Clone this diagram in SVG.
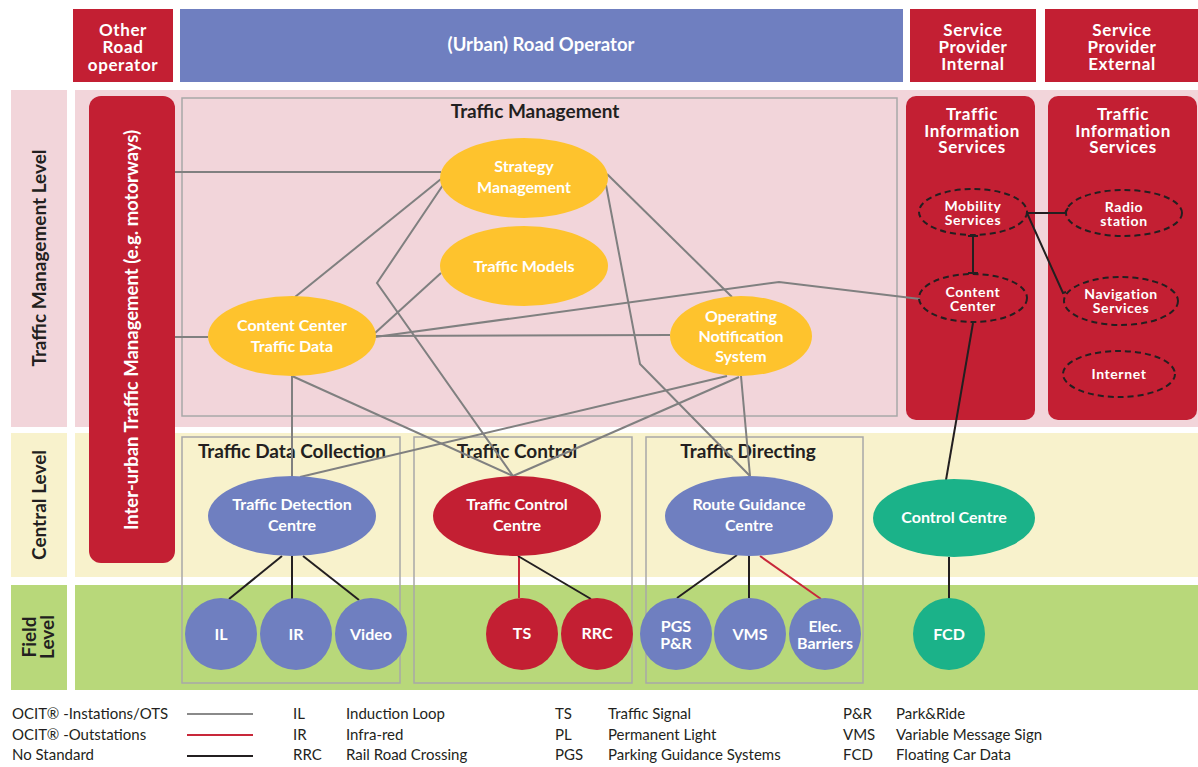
<svg xmlns="http://www.w3.org/2000/svg" width="1198" height="767" viewBox="0 0 1198 767">
<style>
text{font-family:Lato,"Open Sans","Liberation Sans",sans-serif}
.hdr{fill:#fff;font-size:17px;font-weight:bold;text-anchor:middle;letter-spacing:0.6px}
.big{fill:#fff;font-size:18.5px;font-weight:bold;text-anchor:middle}
.lvl{fill:#231f20;font-size:19px;font-weight:bold;text-anchor:middle}
.ttl{fill:#231f20;font-size:19px;font-weight:bold;text-anchor:middle}
.nt{fill:#fff;font-size:16px;font-weight:bold;text-anchor:middle}
.st{fill:#fff;font-size:14px;font-weight:bold;text-anchor:middle;letter-spacing:0.6px}
.lg{fill:#231f20;font-size:15px}
.red{fill:#c31f33}
.blue{fill:#6f7fc0}
.yel{fill:#fec32d}
.grn{fill:#1bb289}
.grp{fill:none;stroke:#a8a8a8;stroke-width:1.5}
.dash{fill:none;stroke:#231f20;stroke-width:2;stroke-dasharray:6 4}
.cg{fill:none;stroke:#808080;stroke-width:2}
.cr{fill:none;stroke:#c8283a;stroke-width:2}
.cb{fill:none;stroke:#231f20;stroke-width:2}
</style>

<!-- bands -->
<g id="bands">
  <rect x="11" y="90" width="56" height="337" fill="#f2d5da"/>
  <rect x="75" y="90" width="1123" height="337" fill="#f2d5da"/>
  <rect x="11" y="433" width="56" height="144" fill="#f8f2cc"/>
  <rect x="75" y="433" width="1123" height="144" fill="#f8f2cc"/>
  <rect x="11" y="585" width="56" height="105" fill="#b8d87a"/>
  <rect x="75" y="585" width="1123" height="105" fill="#b8d87a"/>
  <text class="lvl" transform="translate(46,258) rotate(-90)">Traffic Management Level</text>
  <text class="lvl" transform="translate(46,505) rotate(-90)">Central Level</text>
  <text class="lvl" transform="translate(36,637) rotate(-90)">Field</text>
  <text class="lvl" transform="translate(54,637) rotate(-90)">Level</text>
</g>

<!-- headers -->
<g id="hdr-other">
  <rect class="red" x="73" y="9" width="100" height="73"/>
  <text class="hdr" x="123" y="36">Other</text>
  <text class="hdr" x="123" y="53">Road</text>
  <text class="hdr" x="123" y="71">operator</text>
</g>
<g id="hdr-urban">
  <rect class="blue" x="180" y="9" width="723" height="73"/>
  <text class="big" x="541" y="51">(Urban) Road Operator</text>
</g>
<g id="hdr-spi">
  <rect class="red" x="910" y="9" width="126" height="73"/>
  <text class="hdr" x="973" y="36">Service</text>
  <text class="hdr" x="973" y="53">Provider</text>
  <text class="hdr" x="973" y="70">Internal</text>
</g>
<g id="hdr-spe">
  <rect class="red" x="1045" y="9" width="153" height="73"/>
  <text class="hdr" x="1122" y="36">Service</text>
  <text class="hdr" x="1122" y="53">Provider</text>
  <text class="hdr" x="1122" y="70">External</text>
</g>

<!-- group boxes -->
<g id="box-tm">
  <rect class="grp" x="182" y="98" width="715" height="318"/>
  <text class="ttl" x="535" y="118">Traffic Management</text>
</g>
<g id="box-tdc">
  <rect class="grp" x="182" y="437" width="218" height="246"/>
  <text class="ttl" x="292" y="458">Traffic Data Collection</text>
</g>
<g id="box-tc">
  <rect class="grp" x="414" y="437" width="218" height="246"/>
  <text class="ttl" x="517" y="458">Traffic Control</text>
</g>
<g id="box-td">
  <rect class="grp" x="646" y="437" width="217" height="246"/>
  <text class="ttl" x="748" y="458">Traffic Directing</text>
</g>

<g id="inter-urban">
  <rect class="red" x="89" y="96" width="86" height="467" rx="12"/>
  <text class="big" transform="translate(138,330) rotate(-90)">Inter-urban Traffic Management (e.g. motorways)</text>
</g>

<g id="tis-internal">
  <rect class="red" x="906" y="96" width="129" height="324" rx="10"/>
  <text class="hdr" x="972" y="120">Traffic</text>
  <text class="hdr" x="972" y="137">Information</text>
  <text class="hdr" x="972" y="153">Services</text>
</g>
<g id="tis-external">
  <rect class="red" x="1048" y="96" width="149" height="324" rx="10"/>
  <text class="hdr" x="1123" y="120">Traffic</text>
  <text class="hdr" x="1123" y="137">Information</text>
  <text class="hdr" x="1123" y="153">Services</text>
</g>

<!-- connectors -->
<g id="connectors">
  <path class="cg" d="M175,172 H441"/>
  <path class="cg" d="M175,337 H208"/>
  <path class="cg" d="M441,179 L295,297"/>
  <path class="cg" d="M443,185 L377,283 L513,476"/>
  <path class="cg" d="M441,273 L375,333"/>
  <path class="cg" d="M375,336 L670,335"/>
  <path class="cg" d="M375,337 L779,282 L920,299"/>
  <path class="cg" d="M607,174 L732,297"/>
  <path class="cg" d="M606,185 L640,364 L750,476"/>
  <path class="cg" d="M741,376 L750,476"/>
  <path class="cg" d="M727,376 L300,477"/>
  <path class="cg" d="M739,377 L513,476"/>
  <path class="cg" d="M292,376 V476"/>
  <path class="cg" d="M292,376 L513,476"/>
  <path class="cb" d="M968,236 H978 M973,236 V273 M968,273 H978"/>
  <path class="cb" d="M1027,213 H1065 L1068,208"/>
  <path class="cb" d="M1027,213 L1063,293 L1066,292"/>
  <path class="cb" d="M973,323 L946,480"/>
  <path class="cb" d="M949,557 V599"/>
  <path class="cb" d="M282,556 L229,599"/>
  <path class="cb" d="M292,556 V599"/>
  <path class="cb" d="M303,556 L359,600"/>
  <path class="cr" d="M519,556 V598"/>
  <path class="cb" d="M518,556 L591,599"/>
  <path class="cb" d="M737,555 L677,598"/>
  <path class="cb" d="M749,556 V598"/>
  <path class="cr" d="M760,556 L821,599"/>
</g>

<!-- traffic management nodes -->
<g id="strategy">
  <ellipse class="yel" cx="524" cy="178" rx="84" ry="40"/>
  <text class="nt" x="524" y="172">Strategy</text>
  <text class="nt" x="524" y="193">Management</text>
</g>
<g id="models">
  <ellipse class="yel" cx="524" cy="266" rx="84" ry="40"/>
  <text class="nt" x="524" y="272">Traffic Models</text>
</g>
<g id="content-data">
  <ellipse class="yel" cx="292" cy="336" rx="84" ry="40"/>
  <text class="nt" x="292" y="331">Content Center</text>
  <text class="nt" x="292" y="352">Traffic Data</text>
</g>
<g id="ons">
  <ellipse class="yel" cx="741" cy="336" rx="71" ry="40"/>
  <text class="nt" x="741" y="322">Operating</text>
  <text class="nt" x="741" y="342">Notification</text>
  <text class="nt" x="741" y="362">System</text>
</g>

<!-- service nodes -->
<g id="mobility">
  <ellipse class="dash" cx="973" cy="212" rx="54" ry="23"/>
  <text class="st" x="973" y="211">Mobility</text>
  <text class="st" x="973" y="225">Services</text>
</g>
<g id="content-center">
  <ellipse class="dash" cx="973" cy="298" rx="54" ry="24"/>
  <text class="st" x="973" y="297">Content</text>
  <text class="st" x="973" y="311">Center</text>
</g>
<g id="radio">
  <ellipse class="dash" cx="1124" cy="213" rx="58" ry="23"/>
  <text class="st" x="1124" y="212">Radio</text>
  <text class="st" x="1124" y="226">station</text>
</g>
<g id="navigation">
  <ellipse class="dash" cx="1121" cy="301" rx="57" ry="24"/>
  <text class="st" x="1121" y="299">Navigation</text>
  <text class="st" x="1121" y="313">Services</text>
</g>
<g id="internet">
  <ellipse class="dash" cx="1119" cy="374" rx="56" ry="23"/>
  <text class="st" x="1119" y="379">Internet</text>
</g>

<!-- central nodes -->
<g id="tdc">
  <ellipse class="blue" cx="292" cy="516" rx="84" ry="40"/>
  <text class="nt" x="292" y="510">Traffic Detection</text>
  <text class="nt" x="292" y="531">Centre</text>
</g>
<g id="tcc">
  <ellipse class="red" cx="517" cy="516" rx="84" ry="40"/>
  <text class="nt" x="517" y="510">Traffic Control</text>
  <text class="nt" x="517" y="531">Centre</text>
</g>
<g id="rgc">
  <ellipse class="blue" cx="749" cy="516" rx="84" ry="40"/>
  <text class="nt" x="749" y="510">Route Guidance</text>
  <text class="nt" x="749" y="531">Centre</text>
</g>
<g id="cc">
  <ellipse class="grn" cx="954" cy="518" rx="81" ry="39"/>
  <text class="nt" x="954" y="523">Control Centre</text>
</g>

<!-- field nodes -->
<g id="il"><circle class="blue" cx="221" cy="634" r="36"/><text class="nt" x="221" y="640">IL</text></g>
<g id="ir"><circle class="blue" cx="296" cy="634" r="36"/><text class="nt" x="296" y="640">IR</text></g>
<g id="video"><circle class="blue" cx="371" cy="634" r="36"/><text class="nt" x="371" y="640">Video</text></g>
<g id="ts"><circle class="red" cx="522" cy="634" r="36"/><text class="nt" x="522" y="639">TS</text></g>
<g id="rrc"><circle class="red" cx="597" cy="634" r="36"/><text class="nt" x="597" y="639">RRC</text></g>
<g id="pgs"><circle class="blue" cx="676" cy="634" r="36"/><text class="nt" x="676" y="632">PGS</text><text class="nt" x="676" y="649">P&amp;R</text></g>
<g id="vms"><circle class="blue" cx="750" cy="634" r="36"/><text class="nt" x="750" y="640">VMS</text></g>
<g id="elec"><circle class="blue" cx="825" cy="634" r="36"/><text class="nt" x="825" y="632">Elec.</text><text class="nt" x="825" y="649">Barriers</text></g>
<g id="fcd"><ellipse class="grn" cx="949" cy="634" rx="36" ry="36"/><text class="nt" x="949" y="640">FCD</text></g>

<!-- legend -->
<g id="legend">
  <text class="lg" x="12" y="719">OCIT® -Instations/OTS</text>
  <text class="lg" x="12" y="740">OCIT® -Outstations</text>
  <text class="lg" x="12" y="760">No Standard</text>
  <line x1="187" y1="714" x2="253" y2="714" stroke="#8a8a8a" stroke-width="2"/>
  <line x1="187" y1="735" x2="253" y2="735" stroke="#c8283a" stroke-width="2"/>
  <line x1="187" y1="756" x2="253" y2="756" stroke="#231f20" stroke-width="2"/>
  <text class="lg" x="293" y="719">IL</text>
  <text class="lg" x="293" y="740">IR</text>
  <text class="lg" x="293" y="760">RRC</text>
  <text class="lg" x="346" y="719">Induction Loop</text>
  <text class="lg" x="346" y="740">Infra-red</text>
  <text class="lg" x="346" y="760">Rail Road Crossing</text>
  <text class="lg" x="555" y="719">TS</text>
  <text class="lg" x="555" y="740">PL</text>
  <text class="lg" x="555" y="760">PGS</text>
  <text class="lg" x="608" y="719">Traffic Signal</text>
  <text class="lg" x="608" y="740">Permanent Light</text>
  <text class="lg" x="608" y="760">Parking Guidance Systems</text>
  <text class="lg" x="843" y="719">P&amp;R</text>
  <text class="lg" x="843" y="740">VMS</text>
  <text class="lg" x="843" y="760">FCD</text>
  <text class="lg" x="896" y="719">Park&amp;Ride</text>
  <text class="lg" x="896" y="740">Variable Message Sign</text>
  <text class="lg" x="896" y="760">Floating Car Data</text>
</g>
</svg>
